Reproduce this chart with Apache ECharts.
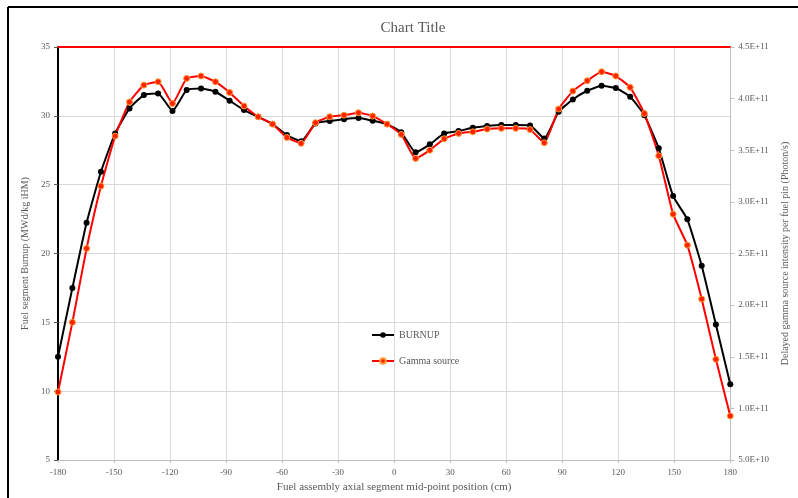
<!DOCTYPE html>
<html>
<head>
<meta charset="utf-8">
<script src="https://cdn.jsdelivr.net/npm/echarts@6/dist/echarts.min.js"></script>
<style>
html,body{margin:0;padding:0;background:#fff;overflow:hidden;}
#chart{width:798px;height:498px;}
</style>
</head>
<body>
<div id="chart"></div>
<script>
// Axial segment mid-point positions (cm)
var positions = [-180, -172.3, -164.7, -157.0, -149.4, -141.7, -134.0, -126.4, -118.7, -111.1, -103.4, -95.7,
  -88.1, -80.4, -72.8, -65.1, -57.4, -49.8, -42.1, -34.5, -26.8, -19.1, -11.5, -3.8,
  3.8, 11.5, 19.1, 26.8, 34.5, 42.1, 49.8, 57.4, 65.1, 72.8, 80.4, 88.1,
  95.7, 103.4, 111.1, 118.7, 126.4, 134.0, 141.7, 149.4, 157.0, 164.7, 172.3, 180];
// Burnup (MWd/kg iHM)
var burnup = [12.5, 17.49, 22.23, 25.94, 28.72, 30.54, 31.51, 31.63, 30.35, 31.87, 31.99, 31.75,
  31.1, 30.42, 29.93, 29.4, 28.6, 28.15, 29.45, 29.62, 29.76, 29.84, 29.64, 29.4,
  28.8, 27.35, 27.93, 28.72, 28.89, 29.13, 29.26, 29.33, 29.33, 29.3, 28.36, 30.3,
  31.19, 31.82, 32.18, 32.02, 31.38, 30.05, 27.64, 24.17, 22.48, 19.11, 14.85, 10.5];
// Delayed gamma source intensity per fuel pin (Photon/s)
var gamma = [1.159e11, 1.833e11, 2.549e11, 3.153e11, 3.637e11, 3.967e11, 4.131e11, 4.163e11, 3.953e11, 4.196e11, 4.219e11, 4.163e11,
  4.06e11, 3.928e11, 3.824e11, 3.753e11, 3.624e11, 3.567e11, 3.767e11, 3.824e11, 3.84e11, 3.863e11, 3.831e11, 3.753e11,
  3.653e11, 3.421e11, 3.501e11, 3.611e11, 3.663e11, 3.679e11, 3.705e11, 3.712e11, 3.712e11, 3.70e11, 3.573e11, 3.899e11,
  4.073e11, 4.173e11, 4.26e11, 4.219e11, 4.109e11, 3.856e11, 3.447e11, 2.881e11, 2.581e11, 2.059e11, 1.475e11, 0.927e11];

var titleText = 'Chart Title';
var xName = 'Fuel assembly axial segment mid-point position (cm)';
var yLeftName = 'Fuel segment Burnup (MWd/kg iHM)';
var yRightName = 'Delayed gamma source intensity per fuel pin (Photon/s)';
var seriesNames = ['BURNUP', 'Gamma source'];

function pairs(xs, ys){ return xs.map(function(x,i){ return [x, ys[i]]; }); }

var FONT = '"Liberation Serif", "DejaVu Serif", serif';
var GREY = '#595959';
var chart = echarts.init(document.getElementById('chart'), null, {renderer:'canvas'});
chart.setOption({
  animation: false,
  backgroundColor: '#fff',
  textStyle: {fontFamily: FONT},
  title: {
    text: titleText, left: 408, top: 16, textAlign: 'center',
    textStyle: {fontFamily: FONT, fontSize: 15, fontWeight: 'normal', color: GREY}
  },
  graphic: [
    {type:'line', shape:{x1:8, y1:7, x2:798, y2:7}, style:{stroke:'#000', lineWidth:2}},
    {type:'line', shape:{x1:8, y1:7, x2:8, y2:498}, style:{stroke:'#000', lineWidth:2}}
  ],
  legend: {
    orient: 'vertical', left: 366, top: 325, itemGap: 16,
    itemWidth: 22, itemHeight: 7,
    textStyle: {fontFamily: FONT, fontSize: 10, color: GREY},
    data: seriesNames
  },
  grid: {left: 58, right: 61, top: 47, bottom: 38, containLabel: false},
  xAxis: [{
    type: 'value', min: -180, max: 180, interval: 30, position: 'bottom',
    name: xName, nameLocation: 'middle', nameGap: 22,
    nameTextStyle: {fontFamily: FONT, fontSize: 11, color: GREY},
    axisLine: {show: true, onZero: false, lineStyle: {color: '#bfbfbf', width: 1}},
    axisTick: {show: true, length: 3, lineStyle: {color: '#bfbfbf'}},
    axisLabel: {fontFamily: FONT, fontSize: 9, color: GREY, margin: 8},
    splitLine: {show: true, lineStyle: {color: '#d9d9d9', width: 1}}
  }, {
    type: 'value', min: -180, max: 180, interval: 30, position: 'top',
    axisLine: {show: true, onZero: false, lineStyle: {color: '#ff0000', width: 2}},
    axisTick: {show: false}, axisLabel: {show: false}, splitLine: {show: false}
  }],
  yAxis: [{
    type: 'value', min: 5, max: 35, interval: 5, position: 'left',
    name: yLeftName, nameLocation: 'middle', nameGap: 19, nameRotate: 90,
    nameTextStyle: {fontFamily: FONT, fontSize: 10, color: GREY},
    axisLine: {show: true, onZero: false, lineStyle: {color: '#000', width: 2}},
    axisTick: {show: true, length: 4, lineStyle: {color: '#595959'}},
    axisLabel: {fontFamily: FONT, fontSize: 9, color: GREY, margin: 8},
    splitLine: {show: true, lineStyle: {color: '#d9d9d9', width: 1}}
  }, {
    type: 'value', min: 0.5e11, max: 4.5e11, interval: 0.5e11, position: 'right',
    name: yRightName, nameLocation: 'middle', nameGap: 47, nameRotate: 90,
    nameTextStyle: {fontFamily: FONT, fontSize: 10, color: GREY},
    axisLine: {show: true, onZero: false, lineStyle: {color: '#bfbfbf', width: 1}},
    axisTick: {show: true, length: 4, lineStyle: {color: '#bfbfbf'}},
    axisLabel: {fontFamily: FONT, fontSize: 9, color: GREY, margin: 8,
      formatter: function(v){ return v.toExponential(1).toUpperCase(); }},
    splitLine: {show: false}
  }],
  series: [{
    name: seriesNames[0], type: 'line', xAxisIndex: 0, yAxisIndex: 0,
    data: pairs(positions, burnup), smooth: 0.15,
    symbol: 'circle', symbolSize: 6,
    lineStyle: {color: '#000', width: 2},
    itemStyle: {color: '#000'}
  }, {
    name: seriesNames[1], type: 'line', xAxisIndex: 0, yAxisIndex: 1,
    data: pairs(positions, gamma), smooth: 0.15,
    symbol: 'circle', symbolSize: 6,
    lineStyle: {color: '#ff0000', width: 2},
    itemStyle: {color: '#ff2200', borderColor: '#ff9a33', borderWidth: 1}
  }]
});
</script>
</body>
</html>
